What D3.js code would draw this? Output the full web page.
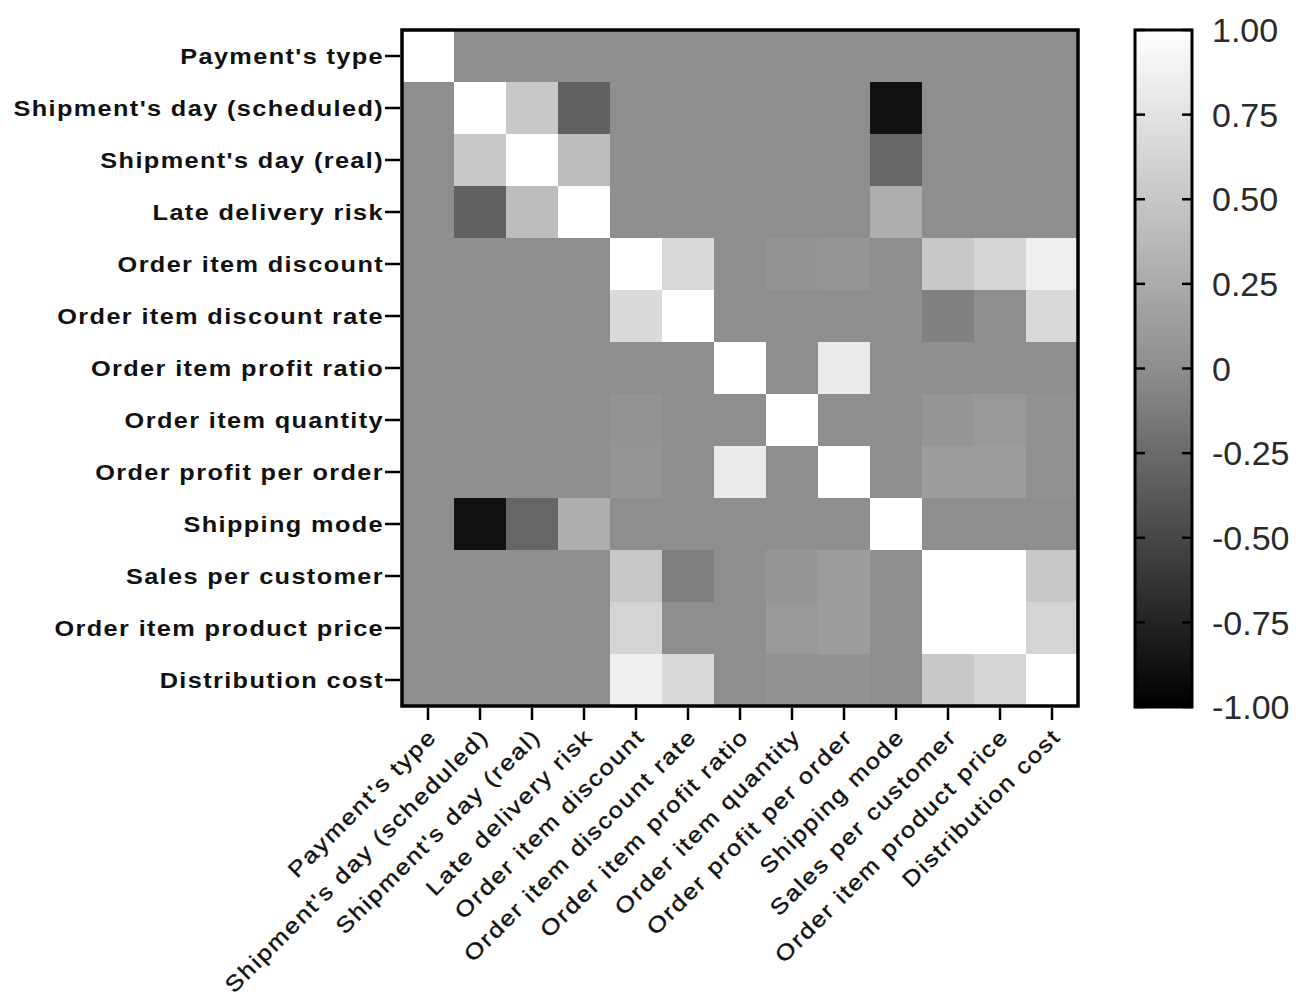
<!DOCTYPE html>
<html>
<head>
<meta charset="utf-8">
<script src="https://cdn.jsdelivr.net/npm/d3@7"></script>
<style>
  body { margin: 0; background: #fff; }
  .lab text { font-family: "Liberation Sans", Arial, sans-serif; font-size: 22px; font-weight: bold; letter-spacing: 1.2px; fill: #111; }
  .lab.xl text { font-weight: normal; letter-spacing: 1.7px; fill: #111; stroke: #111; stroke-width: 0.4px; }
  .cb text { font-family: "Liberation Sans", Arial, sans-serif; font-size: 34px; fill: #2a2a2a; }
</style>
</head>
<body>
<svg id="chart"></svg>
<script>
// variables, in row / column order
var variables = [
  "Payment's type",
  "Shipment's day (scheduled)",
  "Shipment's day (real)",
  "Late delivery risk",
  "Order item discount",
  "Order item discount rate",
  "Order item profit ratio",
  "Order item quantity",
  "Order profit per order",
  "Shipping mode",
  "Sales per customer",
  "Order item product price",
  "Distribution cost"
];

// correlation matrix
var corr = [
  [1, 0, 0, 0, 0, 0, 0, 0, 0, 0, 0, 0, 0],
  [0, 1, 0.51, -0.32, 0, 0, 0, 0, 0, -0.88, 0, 0, 0],
  [0, 0.51, 1, 0.42, 0, 0, 0, 0, 0, -0.28, 0, 0, 0],
  [0, -0.32, 0.42, 1, 0, 0, 0, 0, 0, 0.27, 0, 0, 0],
  [0, 0, 0, 0, 1, 0.67, 0, 0.04, 0.06, 0, 0.51, 0.62, 0.86],
  [0, 0, 0, 0, 0.67, 1, 0, 0, 0, 0, -0.1, 0, 0.66],
  [0, 0, 0, 0, 0, 0, 1, 0, 0.82, 0, 0, 0, 0],
  [0, 0, 0, 0, 0.04, 0, 0, 1, 0, 0, 0.07, 0.1, 0.03],
  [0, 0, 0, 0, 0.06, 0, 0.82, 0, 1, 0, 0.12, 0.12, 0.03],
  [0, -0.88, -0.28, 0.27, 0, 0, 0, 0, 0, 1, 0, 0, 0],
  [0, 0, 0, 0, 0.51, -0.1, 0, 0.07, 0.12, 0, 1, 1, 0.51],
  [0, 0, 0, 0, 0.62, 0, 0, 0.1, 0.12, 0, 1, 1, 0.62],
  [0, 0, 0, 0, 0.86, 0.66, 0, 0.03, 0.03, 0, 0.51, 0.62, 1]
];

var colorTicks = [1, 0.75, 0.5, 0.25, 0, -0.25, -0.5, -0.75, -1];
var colorTickLabels = ["1.00", "0.75", "0.50", "0.25", "0", "-0.25", "-0.50", "-0.75", "-1.00"];

var width = 1311, height = 1005;
var plotLeft = 402, plotTop = 30, plotSize = 676;
var stretch = 1.15; // labels in the original are drawn a bit wide

var svg = d3.select("#chart").attr("width", width).attr("height", height);
svg.append("rect").attr("width", width).attr("height", height).attr("fill", "#fff");

var x = d3.scaleBand().domain(variables).range([plotLeft, plotLeft + plotSize]);
var y = d3.scaleBand().domain(variables).range([plotTop, plotTop + plotSize]);

var color = d3.scaleLinear()
  .domain([-1, 0, 1])
  .range(["#000000", "#8e8e8e", "#ffffff"]);

// cells
var cells = [];
corr.forEach(function (row, i) {
  row.forEach(function (v, j) {
    cells.push({ r: variables[i], c: variables[j], v: v });
  });
});

svg.append("g")
  .selectAll("rect")
  .data(cells)
  .join("rect")
  .attr("x", d => x(d.c))
  .attr("y", d => y(d.r))
  .attr("width", x.bandwidth() + 0.5)
  .attr("height", y.bandwidth() + 0.5)
  .attr("fill", d => color(d.v));

// frame
svg.append("rect")
  .attr("x", plotLeft)
  .attr("y", plotTop)
  .attr("width", plotSize)
  .attr("height", plotSize)
  .attr("fill", "none")
  .attr("stroke", "#000")
  .attr("stroke-width", 3.5);

// left axis
var yAxis = svg.append("g")
  .attr("class", "lab")
  .attr("transform", "translate(" + (plotLeft - 2) + ",0)")
  .call(d3.axisLeft(y).tickSize(15).tickPadding(0));
yAxis.select(".domain").remove();
yAxis.selectAll(".tick line").attr("stroke", "#000").attr("stroke-width", 2.5);
yAxis.selectAll(".tick text")
  .attr("x", -16 / stretch)
  .attr("dy", "0.36em")
  .attr("transform", "scale(" + stretch + ",1)");

// bottom axis
var xAxis = svg.append("g")
  .attr("class", "lab xl")
  .attr("transform", "translate(0," + (plotTop + plotSize + 2) + ")")
  .call(d3.axisBottom(x).tickSize(12).tickPadding(0));
xAxis.select(".domain").remove();
xAxis.selectAll(".tick line").attr("stroke", "#000").attr("stroke-width", 2.5);
xAxis.selectAll(".tick text")
  .attr("y", 0)
  .attr("dy", 0)
  .attr("text-anchor", "end")
  .attr("transform", "translate(10,30) rotate(-45) scale(" + stretch + ",1)");

// colour bar
var cbX = 1135, cbW = 57;
var cbY = d3.scaleLinear().domain([-1, 1]).range([plotTop + plotSize + 1, plotTop]);

var defs = svg.append("defs");
var grad = defs.append("linearGradient")
  .attr("id", "cbGrad")
  .attr("x1", 0).attr("y1", 1).attr("x2", 0).attr("y2", 0);
grad.selectAll("stop")
  .data(color.domain())
  .join("stop")
  .attr("offset", d => (d + 1) / 2)
  .attr("stop-color", d => color(d));

var cb = svg.append("g").attr("class", "cb");
cb.append("rect")
  .attr("x", cbX)
  .attr("y", cbY(1))
  .attr("width", cbW)
  .attr("height", cbY(-1) - cbY(1))
  .attr("fill", "url(#cbGrad)")
  .attr("stroke", "#000")
  .attr("stroke-width", 3);

cb.selectAll("line.l")
  .data(colorTicks)
  .join("line")
  .attr("class", "l")
  .attr("x1", cbX).attr("x2", cbX + 10)
  .attr("y1", d => cbY(d)).attr("y2", d => cbY(d))
  .attr("stroke", "#000").attr("stroke-width", 2.5);
cb.selectAll("line.r")
  .data(colorTicks)
  .join("line")
  .attr("class", "r")
  .attr("x1", cbX + cbW - 10).attr("x2", cbX + cbW)
  .attr("y1", d => cbY(d)).attr("y2", d => cbY(d))
  .attr("stroke", "#000").attr("stroke-width", 2.5);

cb.selectAll("text")
  .data(colorTicks)
  .join("text")
  .attr("x", 1212)
  .attr("y", d => cbY(d))
  .attr("dy", "0.36em")
  .text((d, i) => colorTickLabels[i]);
</script>
</body>
</html>
